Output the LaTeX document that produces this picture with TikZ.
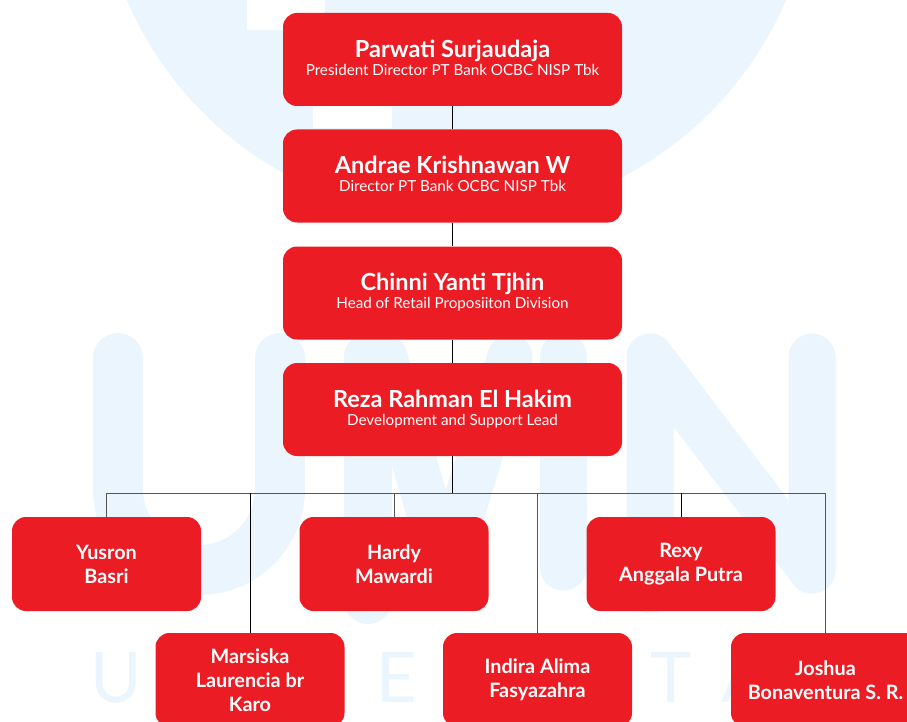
\documentclass[tikz,border=0pt]{standalone}
\usepackage{fontspec}
\setmainfont{Lato}
\definecolor{ocred}{HTML}{EC1C24}
\definecolor{wmblue}{HTML}{EAF5FD}
\definecolor{busgrey}{HTML}{555555}
\newcommand\nmfont{\fontsize{23.5}{10}\selectfont\bfseries}
\newcommand\sbfont{\fontsize{15.2}{10}\selectfont}
\newcommand\nmstrut{\rule[-6pt]{0pt}{17pt}}
\newcommand\sbstrut{\rule[-4pt]{0pt}{12pt}}
\begin{document}
\begin{tikzpicture}[x=1pt,y=-1pt,
  topbox/.style={fill=ocred, rounded corners=14pt, minimum width=339pt, minimum height=93pt,
    text=white, align=center, inner sep=0pt},
  smallbox/.style={fill=ocred, rounded corners=14pt, minimum width=189pt, minimum height=94pt,
    text=white, align=center, inner sep=0pt, font=\fontsize{19.8}{24}\selectfont\bfseries},
  trunk/.style={draw=black, line width=1pt},
  bus/.style={draw=busgrey, line width=1pt},
  wmstroke/.style={draw=wmblue, line cap=round, line join=round},
  wmletter/.style={text=wmblue, anchor=base, inner sep=0pt, font=\fontsize{70}{70}\selectfont}]
\useasboundingbox (0,0) rectangle (907,722);
\clip (0,0) rectangle (907,722);
% watermark
\fill[wmblue] (456.5,-140.7) circle (358.3);
\fill[white] (247,0) rectangle (325,30);
\fill[white] (313,20) rectangle (392,128);
\draw[wmstroke, line width=50pt] (118,358) -- (118,489) arc (180:0:81) -- (280,358);
\draw[wmstroke, line width=48pt] (368,600) -- (368,357);
\draw[wmstroke, line width=45pt] (385,357) -- (445,570) -- (510,357);
\draw[wmstroke, line width=47pt] (563,357) -- (563,567);
\draw[wmstroke, line width=47pt] (650,590) -- (650,357) -- (812,570) -- (812,357);
\node[wmletter] (wmU) at (116,702) {U};
\node[wmletter] (wmE) at (397,702) {E};
\node[wmletter] (wmT) at (671.5,702) {T};
\node[wmletter] (wmA) at (745,702) {A};
% boxes
\node[topbox] (p1) at (452.5,59.5) {\nmfont\nmstrut Parwati Surjaudaja\\\sbfont\sbstrut President Director PT Bank OCBC NISP Tbk};
\node[topbox] (p2) at (452.5,176) {\nmfont\nmstrut Andrae Krishnawan W\\\sbfont\sbstrut Director PT Bank OCBC NISP Tbk};
\node[topbox] (p3) at (452.5,293) {\nmfont\nmstrut Chinni Yanti Tjhin\\\sbfont\sbstrut Head of Retail Proposiiton Division};
\node[topbox] (p4) at (452.5,409.5) {\nmfont\nmstrut Reza Rahman El Hakim\\\sbfont\sbstrut Development and Support Lead};
\node[smallbox] (yus) at (106.5,564) {Yusron\\Basri};
\node[smallbox] (har) at (394,564) {Hardy\\Mawardi};
\node[smallbox] (rex) at (681,564) {Rexy\\Anggala Putra};
\node[smallbox] (mar) at (250,680) {Marsiska\\Laurencia br\\Karo};
\node[smallbox] (ind) at (537.5,680) {Indira Alima\\Fasyazahra};
\node[smallbox] (jos) at (825.5,680) {Joshua\\Bonaventura S. R.};
% connectors
\coordinate (busy) at (0,493);
\draw[trunk] (p1.south) -- (p2.north);
\draw[trunk] (p2.south) -- (p3.north);
\draw[trunk] (p3.south) -- (p4.north);
\draw[trunk] (p4.south) -- (p4.south |- busy);
\draw[bus] (yus.north |- busy) -- (jos.north |- busy);
\draw[bus] (yus.north) -- (yus.north |- busy);
\draw[trunk] (mar.north) -- (mar.north |- busy);
\draw[bus] (har.north) -- (har.north |- busy);
\draw[bus] (ind.north) -- (ind.north |- busy);
\draw[trunk] (rex.north) -- (rex.north |- busy);
\draw[bus] (jos.north) -- (jos.north |- busy);
\end{tikzpicture}
\end{document}
